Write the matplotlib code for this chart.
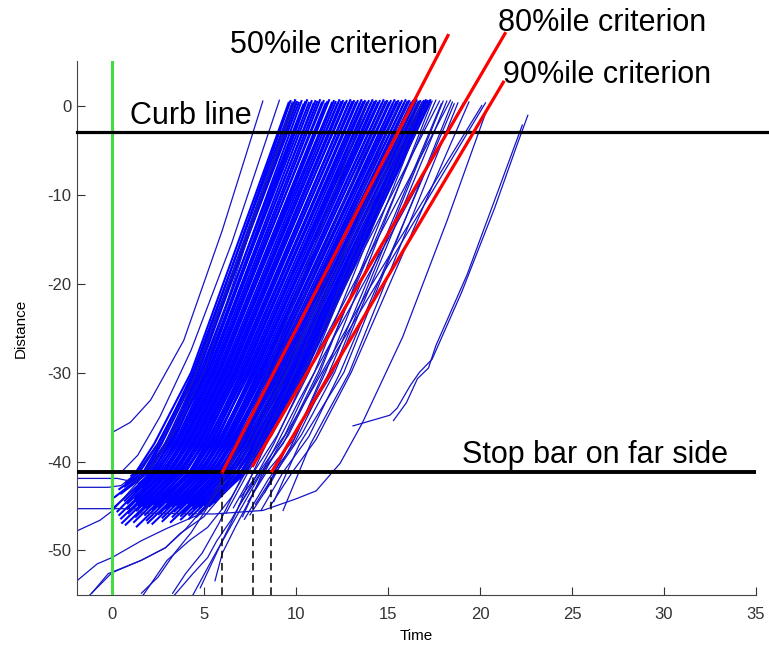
import matplotlib
matplotlib.use("Agg")
import matplotlib.pyplot as plt

plt.rcParams["font.family"] = ["Liberation Sans", "DejaVu Sans"]
plt.rcParams["axes.unicode_minus"] = False

# Основний пучок траєкторій: старт, стоп-лінія, -38 м, -30 м, кінець
start_t = [1.05, 0.75, 0.4, 1.05, 0.15, 0.7, 0.5, 1.25, 0.15, 1.3, 0.7, 1.45, 0.3, 1.3, 0.85, 1.65,
           0.4, 1.25, 0.85, 1.55, 0.5, 1.35, 0.9, 2.1, 0.55, 1.45, 1.35, 2.05, 0.75, 1.7, 1.3, 2.15,
           1.2, 1.9, 2.8, 1.8, 2.3, 1.35, 2.2, 3.0, 1.9, 2.55, 3.45, 1.95, 3.0, 2.55, 3.5, 2.2,
           2.95, 3.6, 2.75, 3.3, 4.05, 2.75, 3.55, 3.4, 4.05, 3.3, 3.7, 4.45, 3.2, 4.15, 3.85, 4.45,
           3.75, 4.4, 4.9, 3.75, 4.45, 4.8, 4.2, 4.75, 5.4, 4.2, 5.05, 4.75, 5.4, 4.6, 5.3, 5.6]
start_d = [-41.6, -42.4, -43.1, -41.9, -44.0, -42.8, -43.6, -42.2, -45.1, -43.0, -44.4, -42.5,
           -45.6, -43.4, -44.7, -42.9, -46.0, -44.1, -45.3, -43.7, -46.4, -44.5, -45.8, -43.2,
           -46.9, -44.9, -45.5, -43.9, -47.1, -45.0, -46.2, -44.3, -46.8, -45.2, -43.6, -46.0,
           -44.8, -47.3, -45.4, -44.0, -46.6, -45.1, -43.5, -46.9, -44.6, -45.9, -43.8, -47.0,
           -45.3, -44.2, -46.3, -45.0, -43.7, -46.7, -44.9, -45.6, -44.1, -46.2, -45.2, -43.9,
           -46.8, -44.7, -45.7, -44.3, -46.1, -45.0, -43.8, -46.5, -45.3, -44.4, -46.0, -45.1,
           -43.6, -46.4, -44.9, -45.7, -44.2, -46.2, -45.0, -44.6]
t_41 = [1.3, 1.5, 1.7, 1.4, 1.9, 1.8, 2.0, 1.8, 2.2, 2.1, 2.3, 2.2, 2.4, 2.5, 2.6, 2.4,
        2.8, 2.8, 2.9, 2.7, 3.1, 3.1, 3.2, 3.0, 3.4, 3.4, 3.5, 3.3, 3.7, 3.7, 3.8, 3.6,
        4.0, 4.0, 3.9, 4.2, 4.2, 4.4, 4.3, 4.3, 4.6, 4.6, 4.5, 4.8, 4.8, 4.9, 4.7, 5.1,
        5.1, 5.0, 5.3, 5.3, 5.2, 5.5, 5.5, 5.6, 5.4, 5.8, 5.8, 5.7, 6.0, 6.0, 6.1, 5.9,
        6.2, 6.4, 6.1, 6.4, 6.6, 6.3, 6.6, 6.8, 6.5, 6.8, 7.0, 7.0, 6.8, 7.1, 7.3, 7.2]
t_38 = [2.3, 2.5, 2.6, 2.5, 2.9, 2.7, 3.0, 2.9, 3.1, 3.2, 3.3, 3.1, 3.5, 3.4, 3.6, 3.5,
        3.8, 3.7, 3.9, 3.8, 4.1, 4.0, 4.2, 4.1, 4.4, 4.3, 4.5, 4.4, 4.7, 4.6, 4.8, 4.7,
        5.0, 4.9, 5.0, 5.2, 5.1, 5.4, 5.3, 5.4, 5.6, 5.5, 5.6, 5.8, 5.7, 5.9, 5.8, 6.1,
        6.0, 6.1, 6.3, 6.2, 6.3, 6.5, 6.4, 6.6, 6.5, 6.8, 6.7, 6.8, 7.0, 6.9, 7.1, 7.0,
        7.2, 7.3, 7.2, 7.4, 7.5, 7.4, 7.6, 7.7, 7.6, 7.8, 7.9, 8.0, 7.9, 8.1, 8.2, 8.3]
t_30 = [4.3, 4.5, 4.4, 4.6, 4.7, 4.6, 4.9, 4.8, 5.0, 5.1, 5.0, 5.2, 5.3, 5.2, 5.4, 5.5,
        5.6, 5.5, 5.7, 5.8, 5.9, 5.8, 6.0, 6.1, 6.2, 6.1, 6.3, 6.4, 6.5, 6.4, 6.6, 6.7,
        6.8, 6.7, 6.9, 7.0, 7.1, 7.2, 7.1, 7.3, 7.4, 7.5, 7.4, 7.6, 7.7, 7.8, 7.7, 7.9,
        8.0, 8.1, 8.2, 8.1, 8.3, 8.4, 8.5, 8.6, 8.5, 8.7, 8.8, 8.9, 9.0, 8.9, 9.1, 9.2,
        9.3, 9.4, 9.3, 9.5, 9.6, 9.7, 9.8, 9.9, 9.8, 10.0, 10.1, 10.2, 10.1, 10.3, 10.4, 10.5]
end_t = [9.6, 9.7, 9.8, 9.95, 10.05, 10.15, 10.3, 10.4, 10.5, 10.6, 10.7, 10.85, 10.95, 11.05,
         11.15, 11.3, 11.4, 11.5, 11.6, 11.7, 11.8, 11.95, 12.05, 12.15, 12.25, 12.35, 12.45,
         12.55, 12.65, 12.75, 12.85, 12.95, 13.05, 13.15, 13.25, 13.35, 13.45, 13.55, 13.65,
         13.75, 13.85, 13.95, 14.05, 14.15, 14.25, 14.35, 14.45, 14.55, 14.65, 14.75, 14.85,
         14.95, 15.05, 15.15, 15.25, 15.35, 15.45, 15.55, 15.65, 15.75, 15.85, 15.95, 16.05,
         16.15, 16.25, 16.35, 16.45, 16.55, 16.65, 16.75, 16.85, 16.95, 17.0, 17.05, 17.1,
         17.15, 17.2, 17.25, 17.3, 17.3]
end_d = [0.3, 0.5, 0.2, 0.6, 0.4, 0.3, 0.5, 0.1, 0.4, 0.6, 0.3, 0.5, 0.2, 0.5, 0.4, 0.6,
         0.3, 0.5, 0.2, 0.4, 0.6, 0.3, 0.5, 0.4, 0.2, 0.6, 0.4, 0.5, 0.3, 0.5, 0.2, 0.6,
         0.4, 0.5, 0.3, 0.5, 0.2, 0.6, 0.4, 0.5, 0.3, 0.5, 0.2, 0.6, 0.4, 0.5, 0.3, 0.5,
         0.2, 0.6, 0.4, 0.5, 0.3, 0.5, 0.2, 0.6, 0.4, 0.5, 0.3, 0.5, 0.2, 0.6, 0.4, 0.5,
         0.3, 0.5, 0.2, 0.6, 0.4, 0.5, 0.3, 0.5, 0.2, 0.6, 0.4, 0.5, 0.3, 0.5, 0.4, 0.6]

# Окремі траєкторії поза пучком (час, відстань)
other_t = [
    [0.05, 1.0, 2.1, 3.9, 6.0, 8.2],
    [0.6, 1.4, 2.6, 4.3, 6.5, 9.1],
    [-1.9, 0.3, 1.2, 2.2, 3.3, 4.6, 10.0],
    [-1.9, -0.2, 0.5, 1.5, 2.8, 4.4, 9.9],
    [-1.9, 1.25, 1.6, 5.5, 8.2, 10.0, 11.1, 12.4, 13.6, 15.8, 18.2, 20.4],
    [-1.9, -0.8, 0.0, 1.6, 3.0, 4.8, 6.5, 8.0, 10.5, 16.6],
    [-1.9, -0.65, 0.05, 1.15, 2.2, 3.6, 5.0, 9.8],
    [-1.2, 0.0, 1.6, 2.9, 3.7, 5.0, 6.3, 7.3, 9.2, 16.9],
    [1.7, 3.0, 4.2, 5.2, 6.5, 7.6, 9.5, 16.1],
    [3.4, 4.4, 5.2, 5.7, 6.5, 7.6, 8.8, 10.6, 18.4],
    [4.4, 5.5, 6.4, 7.5, 8.6, 10.2, 12.2, 19.1],
    [4.8, 6.0, 6.8, 7.6, 8.4, 9.9, 12.0, 17.8],
    [5.6, 6.0, 6.7, 7.7, 9.0, 11.0, 14.0, 20.1],
    [-1.1, -0.2, 1.6, 2.9, 4.0, 5.3, 6.6, 8.0, 13.9],
    [1.6, 2.5, 3.4, 4.3, 5.4, 6.8, 8.3, 14.9],
    [3.3, 4.0, 4.9, 5.8, 7.0, 8.5, 15.6],
    [8.3, 9.6, 12.0, 18.0],
    [8.8, 10.2, 12.6, 18.5],
    [9.3, 10.8, 12.9, 18.8],
    [7.5, 8.6, 9.8, 11.5, 20.3],
    [6.9, 8.0, 9.3, 11.2, 17.6],
    [7.2, 8.5, 9.9, 11.8, 17.9],
    [7.0, 8.0, 9.4, 11.0, 16.9],
    [7.4, 8.4, 9.9, 11.6, 17.4],
    [6.6, 7.7, 9.0, 10.7, 16.7],
    [7.8, 8.9, 10.3, 12.1, 18.2],
    [8.1, 9.3, 10.7, 12.4, 18.6],
    [6.2, 7.4, 8.7, 10.5, 16.4],
    [8.6, 9.8, 11.1, 13.0, 19.4],
    [7.1, 8.2, 9.6, 11.3, 17.1],
    [13.1, 15.1, 15.5, 16.2, 16.7, 17.4, 19.0, 20.8, 22.0, 22.6],
    [15.3, 16.0, 16.6, 17.2, 17.6, 19.3, 21.0, 21.8, 22.3],
]
other_d = [
    [-36.7, -35.6, -33.1, -26.4, -14.0, 0.5],
    [-41.0, -39.3, -35.0, -27.5, -15.5, 0.6],
    [-41.9, -41.9, -42.3, -40.2, -36.5, -30.0, 0.4],
    [-42.9, -42.9, -42.7, -41.0, -37.2, -30.8, 0.2],
    [-45.3, -45.3, -45.8, -45.9, -45.5, -44.2, -43.3, -40.2, -35.7, -26.0, -13.0, -0.3],
    [-53.4, -51.5, -50.8, -48.9, -47.5, -45.9, -41.5, -35.0, -25.0, 0.3],
    [-47.8, -46.6, -45.5, -42.9, -40.5, -36.0, -30.0, 0.4],
    [-55.0, -52.5, -51.1, -49.7, -48.1, -46.2, -43.0, -39.0, -31.0, 0.5],
    [-55.0, -51.1, -48.9, -47.4, -44.0, -40.0, -32.0, 0.5],
    [-55.0, -52.6, -50.8, -48.9, -46.5, -42.5, -38.0, -30.0, 0.6],
    [-55.0, -50.8, -47.5, -43.5, -39.5, -33.0, -25.5, 0.3],
    [-54.2, -48.9, -45.5, -41.5, -38.0, -32.0, -23.0, 0.5],
    [-53.4, -50.3, -47.4, -43.5, -38.5, -31.5, -20.5, 0.0],
    [-54.8, -52.6, -51.1, -49.7, -47.6, -44.5, -39.5, -32.5, 0.4],
    [-54.8, -53.0, -50.3, -48.0, -44.5, -39.0, -32.0, 0.5],
    [-54.8, -52.6, -50.3, -47.0, -42.0, -35.0, 0.2],
    [-43.5, -38.0, -30.0, 0.5],
    [-44.5, -38.0, -30.0, 0.4],
    [-45.5, -38.0, -30.0, 0.3],
    [-46.0, -42.5, -38.0, -30.0, 0.3],
    [-45.0, -41.5, -38.0, -30.0, 0.6],
    [-46.5, -42.0, -38.0, -30.0, 0.2],
    [-44.0, -41.2, -37.0, -30.0, 0.4],
    [-44.5, -41.2, -37.5, -30.0, 0.5],
    [-45.2, -41.2, -37.0, -30.0, 0.3],
    [-44.8, -41.2, -37.0, -30.0, 0.5],
    [-45.5, -41.2, -37.2, -30.0, 0.2],
    [-45.8, -41.2, -37.0, -30.0, 0.6],
    [-45.0, -41.2, -37.5, -30.0, 0.4],
    [-46.2, -41.2, -37.0, -30.0, 0.2],
    [-36.0, -34.8, -34.0, -31.5, -30.0, -28.5, -21.0, -11.5, -4.5, -1.1],
    [-35.4, -33.4, -30.7, -29.5, -27.0, -19.0, -9.5, -5.0, -2.2],
]

# Лінії критеріїв (50, 80, 90 перцентиль)
crit_labels = ["50%ile criterion", "80%ile criterion", "90%ile criterion"]
crit_t0 = [6.0, 7.66, 8.7]
crit_d0 = [-41.2, -40.45, -41.1]
crit_t1 = [18.26, 21.36, 21.27]
crit_d1 = [7.87, 8.09, 2.62]
crit_text_t = [6.4, 21.0, 21.25]
crit_text_d = [6.85, 9.3, 3.4]
crit_dash_t = [5.97, 7.66, 8.63]

curb_d = -3.0
stop_d = -41.2

fig = plt.figure(figsize=(7.69, 6.48), dpi=100)
ax = fig.add_axes([0.1001, 0.0818, 0.883, 0.824])

blue = "#0000ff"
for i in range(len(end_t)):
    ax.plot([start_t[i], t_41[i], t_38[i], t_30[i], end_t[i]],
            [start_d[i], stop_d, -38, -30, end_d[i]], color=blue, lw=1.5)
for tt, dd in zip(other_t, other_d):
    ax.plot(tt, dd, color="#1414c8", lw=0.9)

# Бордюр і стоп-лінія
ax.plot([-1.9, 35.7], [curb_d, curb_d], color="black", lw=2.3, clip_on=False, zorder=5)
ax.plot([-1.9, 35], [stop_d, stop_d], color="black", lw=2.8, zorder=5)
ax.axvline(0, color="#44dd44", lw=2.2, zorder=4)

for i in range(3):
    ax.plot([crit_t0[i], crit_t1[i]], [crit_d0[i], crit_d1[i]], color="red", lw=2.3,
            clip_on=False, zorder=6)
    ax.plot([crit_dash_t[i], crit_dash_t[i]], [-55, stop_d], color="black", lw=1.1,
            ls=(0, (5, 3)), zorder=6)
    ax.text(crit_text_t[i], crit_text_d[i], crit_labels[i], fontsize=22, va="center",
            ha="left", clip_on=False)

ax.text(0.98, curb_d + 0.1, "Curb line", fontsize=22, va="bottom", ha="left")
ax.text(19.0, -39.3, "Stop bar on far side", fontsize=22, va="center", ha="left")

ax.set_xlim(-1.9, 35)
ax.set_ylim(-55, 5)
ax.set_xticks([0, 5, 10, 15, 20, 25, 30, 35])
ax.set_yticks([-50, -40, -30, -20, -10, 0])
ax.spines["top"].set_visible(False)
ax.spines["right"].set_visible(False)
for s in ["left", "bottom"]:
    ax.spines[s].set_color("#444444")
ax.tick_params(direction="in", length=6, labelsize=12, colors="#333333")
ax.tick_params(axis="x", pad=9)
ax.tick_params(axis="y", pad=4)
ax.set_xlabel("Time", fontsize=11, labelpad=5)
ax.set_ylabel("Distance", fontsize=11, labelpad=14)

plt.savefig("out.png", dpi=100)
